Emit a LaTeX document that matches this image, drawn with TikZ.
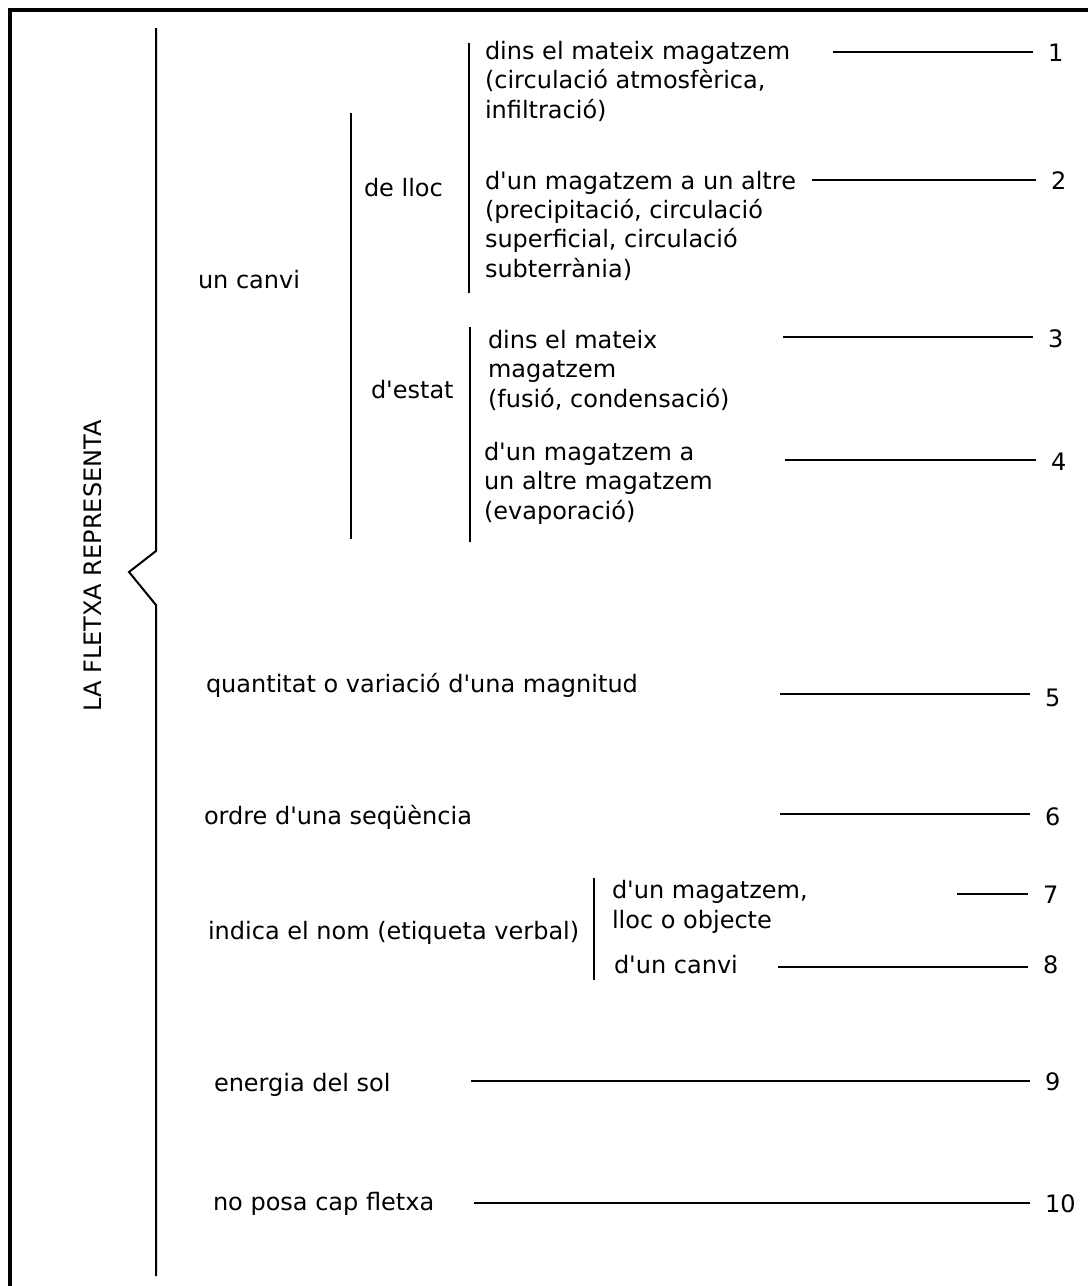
\documentclass[tikz,border=0pt]{standalone}
\usepackage{fontspec}
\setmainfont{DejaVu Sans}
\tikzset{every picture/.style={line width=1.5pt}}
\newcommand\ap{\textquotesingle}

\begin{document}
\begin{tikzpicture}[x=0.75pt,y=0.75pt,yscale=-1,xscale=1,
  txt/.style={anchor=base west,inner sep=0pt,align=left,font=\fontsize{18}{22}\selectfont},
  num/.style={anchor=west,inner sep=0pt,inner xsep=10.5pt,font=\fontsize{18}{22}\selectfont}]
\useasboundingbox (0,0) rectangle (1088,1286);

%Frame
\draw [line width=3pt] (10,1292) -- (10,10) -- (1094,10) ;

%Brace
\draw (156,28) -- (156,551) -- (129,572) -- (156,605) -- (156,1276) ;
%Straight Lines
\draw (351,113) -- (351,539) ;
\draw (469,43) -- (469,293) ;
\draw (470,327) -- (470,542) ;
\draw (594,878) -- (594,980) ;

% Text Node
\node [font=\fontsize{18}{22}\selectfont,rotate=90] (title) at (93,566) {LA FLETXA REPRESENTA};
% Text Node (base = last line)
\node [txt] (canvi) at (197,288) {un canvi};
\node [txt] (lloc) at (363,196) {de lloc};
\node [txt] (estat) at (370,398) {d\ap estat};
% Text Node
\node [txt] (llocA) at (484,118) {dins el mateix magatzem\\(circulació atmosfèrica,\\infiltració)};
\node [txt] (llocB) at (484,277) {d\ap un magatzem a un altre\\(precipitació, circulació\\superficial, circulació\\subterrània)};
\node [txt] (estatA) at (487,407) {dins el mateix\\magatzem\\(fusió, condensació)};
\node [txt] (estatB) at (483,519) {d\ap un magatzem a\\un altre magatzem\\(evaporació)};
% Text Node
\node [txt] (quant) at (205,692) {quantitat o variació d\ap una magnitud};
\node [txt] (ordre) at (203,824) {ordre d\ap una seqüència};
\node [txt] (nom) at (207,939) {indica el nom (etiqueta verbal)};
\node [txt] (nomA) at (611,928) {d\ap un magatzem,\\lloc o objecte};
\node [txt] (nomB) at (613,973) {d\ap un canvi};
\node [txt] (sol) at (213,1091) {energia del sol};
\node [txt] (cap) at (212,1210) {no posa cap fletxa};

% Numbers
\node [num] (n1) at (1033,53) {1};
\node [num] (n2) at (1036,181) {2};
\node [num] (n3) at (1033,339) {3};
\node [num] (n4) at (1036,462) {4};
\node [num] (n5) at (1030,698) {5};
\node [num] (n6) at (1030,817) {6};
\node [num] (n7) at (1028,895) {7};
\node [num] (n8) at (1028,965) {8};
\node [num] (n9) at (1030,1082) {9};
\node [num] (n10) at (1030,1204) {10};

%Straight Lines
\coordinate (s1) at (833,52);
\coordinate (s2) at (812,180);
\coordinate (s3) at (783,337);
\coordinate (s4) at (785,460);
\coordinate (s5) at (780,694);
\coordinate (s6) at (780,814);
\coordinate (s7) at (957,894);
\coordinate (s8) at (778,967);
\coordinate (s9) at (471,1081);
\coordinate (s10) at (474,1203);
\foreach \i in {1,...,10}
  \draw (s\i) -- (s\i -| n\i.west) ;

\end{tikzpicture}
\end{document}
